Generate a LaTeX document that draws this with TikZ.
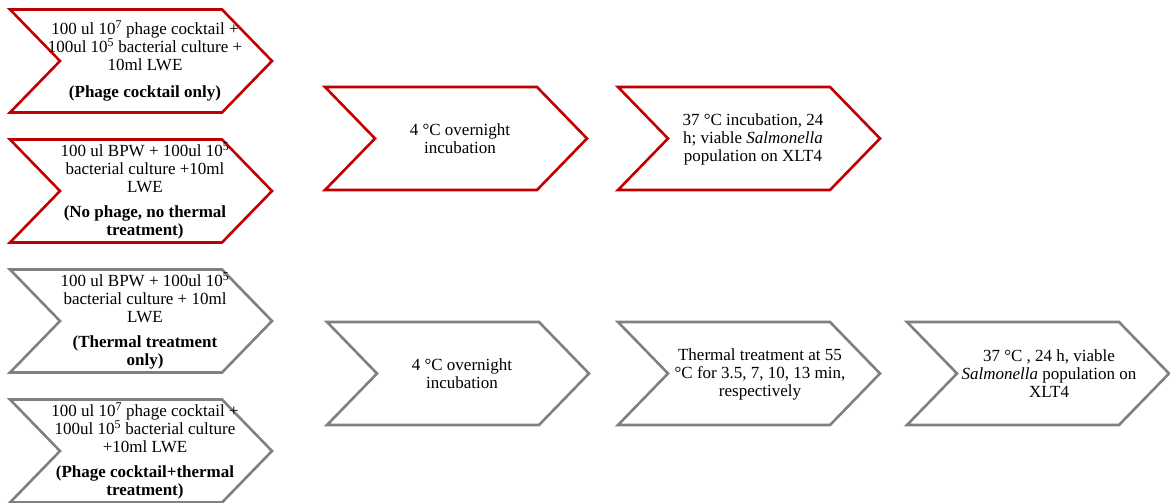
\documentclass[tikz,border=0pt]{standalone}
\usepackage{fontspec}
\setmainfont{Liberation Serif}
\definecolor{chevred}{RGB}{192,0,0}
\definecolor{chevgray}{RGB}{128,128,128}
\tikzset{
  redline/.style={draw=chevred, line width=2.6pt, fill=white},
  grayline/.style={draw=chevgray, line width=2.6pt, fill=white},
  steptext/.style={align=center, inner sep=0pt, font=\fontsize{17}{18}\selectfont},
}

\begin{document}
\begin{tikzpicture}[x=1pt, y=-1pt]
        \useasboundingbox (0,0) rectangle (1170,503);
        % chevron outlines: centre x / centre y / style
        \foreach \cx/\cy/\col in {141/61/redline, 141/191/redline, 456/138.5/redline, 749/138.5/redline,
            141/321/grayline, 141/451/grayline, 458/373.5/grayline, 749/373.5/grayline, 1038/373.5/grayline}
          \draw[\col] (\cx-131,\cy-51.5) -- (\cx+81,\cy-51.5) -- (\cx+131,\cy) -- (\cx+81,\cy+51.5)
            -- (\cx-131,\cy+51.5) -- (\cx-81,\cy) -- cycle;
        % left column: the four treatments
        \node[steptext] (cocktail) at (145,61) {100 ul 10\textsuperscript{7} phage cocktail +\\100ul 10\textsuperscript{5} bacterial culture +\\10ml LWE\\[9pt]\textbf{(Phage cocktail only)}};
        \node[steptext] (control) at (145,191) {100 ul BPW + 100ul 10\textsuperscript{5}\\bacterial culture +10ml\\LWE\\[7pt]\textbf{(No phage, no thermal}\\\textbf{treatment)}};
        \node[steptext] (thermal) at (145,321) {100 ul BPW + 100ul 10\textsuperscript{5}\\bacterial culture + 10ml\\LWE\\[7pt]\textbf{(Thermal treatment}\\\textbf{only)}};
        \node[steptext] (combo) at (145,451) {100 ul 10\textsuperscript{7} phage cocktail +\\100ul 10\textsuperscript{5} bacterial culture\\+10ml LWE\\[7pt]\textbf{(Phage cocktail+thermal}\\\textbf{treatment)}};
        % upper row
        \node[steptext] (chill) at (460,139) {4 °C overnight\\incubation};
        \node[steptext] (count) at (753,139) {37 °C incubation, 24\\h; viable \textit{Salmonella}\\population on XLT4};
        % lower row
        \node[steptext] (chill2) at (462,374) {4 °C overnight\\incubation};
        \node[steptext] (heat) at (760,374) {Thermal treatment at 55\\°C for 3.5, 7, 10, 13 min,\\respectively};
        \node[steptext] (count2) at (1049,374) {37 °C , 24 h, viable\\\textit{Salmonella} population on\\XLT4};
      \end{tikzpicture}
\end{document}
